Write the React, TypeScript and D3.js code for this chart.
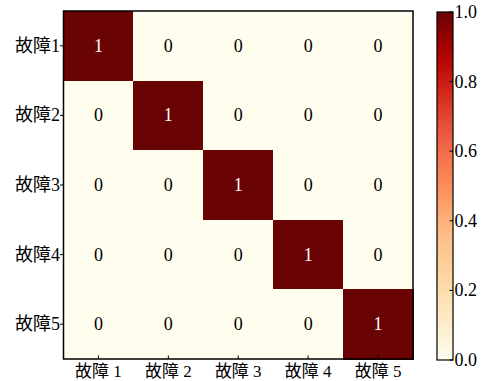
import { useEffect, useRef } from "react";
import * as d3 from "d3";

// fault labels and the confusion matrix values
const faults = ["故障 1", "故障 2", "故障 3", "故障 4", "故障 5"];
const yLabels = ["故障1", "故障2", "故障3", "故障4", "故障5"];
const matrix = [
  [1, 0, 0, 0, 0],
  [0, 1, 0, 0, 0],
  [0, 0, 1, 0, 0],
  [0, 0, 0, 1, 0],
  [0, 0, 0, 0, 1],
];
const cbTicks = [0, 0.2, 0.4, 0.6, 0.8, 1.0];
// roughly matplotlib OrRd, ends tuned to the picture
const cmapStops = ["#fffdee", "#fde9c4", "#fdd49e", "#fdbb84", "#fc8d59", "#ef6548", "#d7301f", "#b30000", "#6a0303"];

const W = 492;
const H = 381;
const FONT = "Liberation Serif, Noto Sans CJK SC";

export default function App() {
  const svgRef = useRef<SVGSVGElement>(null);

  useEffect(() => {
    const svg = d3.select(svgRef.current);
    svg.selectAll("*").remove();

    const plot = { left: 63.5, top: 11, right: 413, bottom: 359 };
    const cb = { left: 437, right: 453, top: 12, bottom: 360 };

    const color = d3
      .scaleLinear<string>()
      .domain(cmapStops.map((_, i) => i / (cmapStops.length - 1)))
      .range(cmapStops)
      .interpolate(d3.interpolateRgb);

    const x = d3.scaleBand<number>().domain(d3.range(faults.length)).range([plot.left, plot.right]);
    const y = d3.scaleBand<number>().domain(d3.range(faults.length)).range([plot.top, plot.bottom]);

    const cells = matrix.flatMap((row, r) => row.map((v, c) => ({ r, c, v })));

    svg
      .append("g")
      .selectAll("rect")
      .data(cells)
      .join("rect")
      .attr("x", (d) => x(d.c)!)
      .attr("y", (d) => y(d.r)!)
      .attr("width", x.bandwidth() + 0.5)
      .attr("height", y.bandwidth() + 0.5)
      .attr("fill", (d) => color(d.v))
      .attr("shape-rendering", "crispEdges");

    svg
      .append("g")
      .selectAll("text")
      .data(cells)
      .join("text")
      .attr("x", (d) => x(d.c)! + x.bandwidth() / 2)
      .attr("y", (d) => y(d.r)! + y.bandwidth() / 2)
      .attr("text-anchor", "middle")
      .attr("dominant-baseline", "central")
      .attr("font-family", FONT)
      .attr("font-size", 18)
      .attr("fill", (d) => (d.v > 0.5 ? "#ffffff" : "#000000"))
      .text((d) => d.v);

    // frame
    svg
      .append("rect")
      .attr("x", plot.left)
      .attr("y", plot.top)
      .attr("width", plot.right - plot.left)
      .attr("height", plot.bottom - plot.top)
      .attr("fill", "none")
      .attr("stroke", "#000")
      .attr("stroke-width", 1.5);

    // y ticks (outside) and labels
    const yt = svg.append("g");
    faults.forEach((_, i) => {
      const cy = y(i)! + y.bandwidth() / 2;
      yt.append("line")
        .attr("x1", plot.left - 3.5)
        .attr("x2", plot.left)
        .attr("y1", cy)
        .attr("y2", cy)
        .attr("stroke", "#000");
      yt.append("text")
        .attr("x", plot.left - 3.5)
        .attr("y", cy)
        .attr("text-anchor", "end")
        .attr("dominant-baseline", "central")
        .attr("font-family", FONT)
        .attr("font-size", 18)
        .text(yLabels[i]);
    });

    // x ticks (inside) and labels
    const xt = svg.append("g");
    faults.forEach((f, i) => {
      const cx = x(i)! + x.bandwidth() / 2;
      xt.append("line")
        .attr("x1", cx)
        .attr("x2", cx)
        .attr("y1", plot.bottom)
        .attr("y2", plot.bottom - 3.5)
        .attr("stroke", "#000");
      xt.append("text")
        .attr("x", cx)
        .attr("y", plot.bottom + 12)
        .attr("text-anchor", "middle")
        .attr("dominant-baseline", "central")
        .attr("font-family", FONT)
        .attr("font-size", 17)
        .text(f);
    });

    // colorbar
    const defs = svg.append("defs");
    const grad = defs
      .append("linearGradient")
      .attr("id", "cbgrad")
      .attr("x1", 0)
      .attr("y1", 1)
      .attr("x2", 0)
      .attr("y2", 0);
    d3.range(0, 1.0001, 0.05).forEach((t) => {
      grad.append("stop").attr("offset", t).attr("stop-color", color(t));
    });
    svg
      .append("rect")
      .attr("x", cb.left)
      .attr("y", cb.top)
      .attr("width", cb.right - cb.left)
      .attr("height", cb.bottom - cb.top)
      .attr("fill", "url(#cbgrad)")
      .attr("stroke", "#000")
      .attr("stroke-width", 1.2);

    const cy = d3.scaleLinear().domain([0, 1]).range([cb.bottom, cb.top]);
    const ct = svg.append("g");
    cbTicks.forEach((t) => {
      ct.append("line")
        .attr("x1", cb.right - 3.5)
        .attr("x2", cb.right)
        .attr("y1", cy(t))
        .attr("y2", cy(t))
        .attr("stroke", "#000");
      ct.append("text")
        .attr("x", cb.right + 1.5)
        .attr("y", cy(t))
        .attr("dominant-baseline", "central")
        .attr("font-family", FONT)
        .attr("font-size", 18)
        .text(d3.format(".1f")(t));
    });
  }, []);

  return (
    <div style={{ position: "absolute", left: 0, top: 0 }}>
      <svg ref={svgRef} width={W} height={H} style={{ display: "block", background: "#fff" }} />
    </div>
  );
}
